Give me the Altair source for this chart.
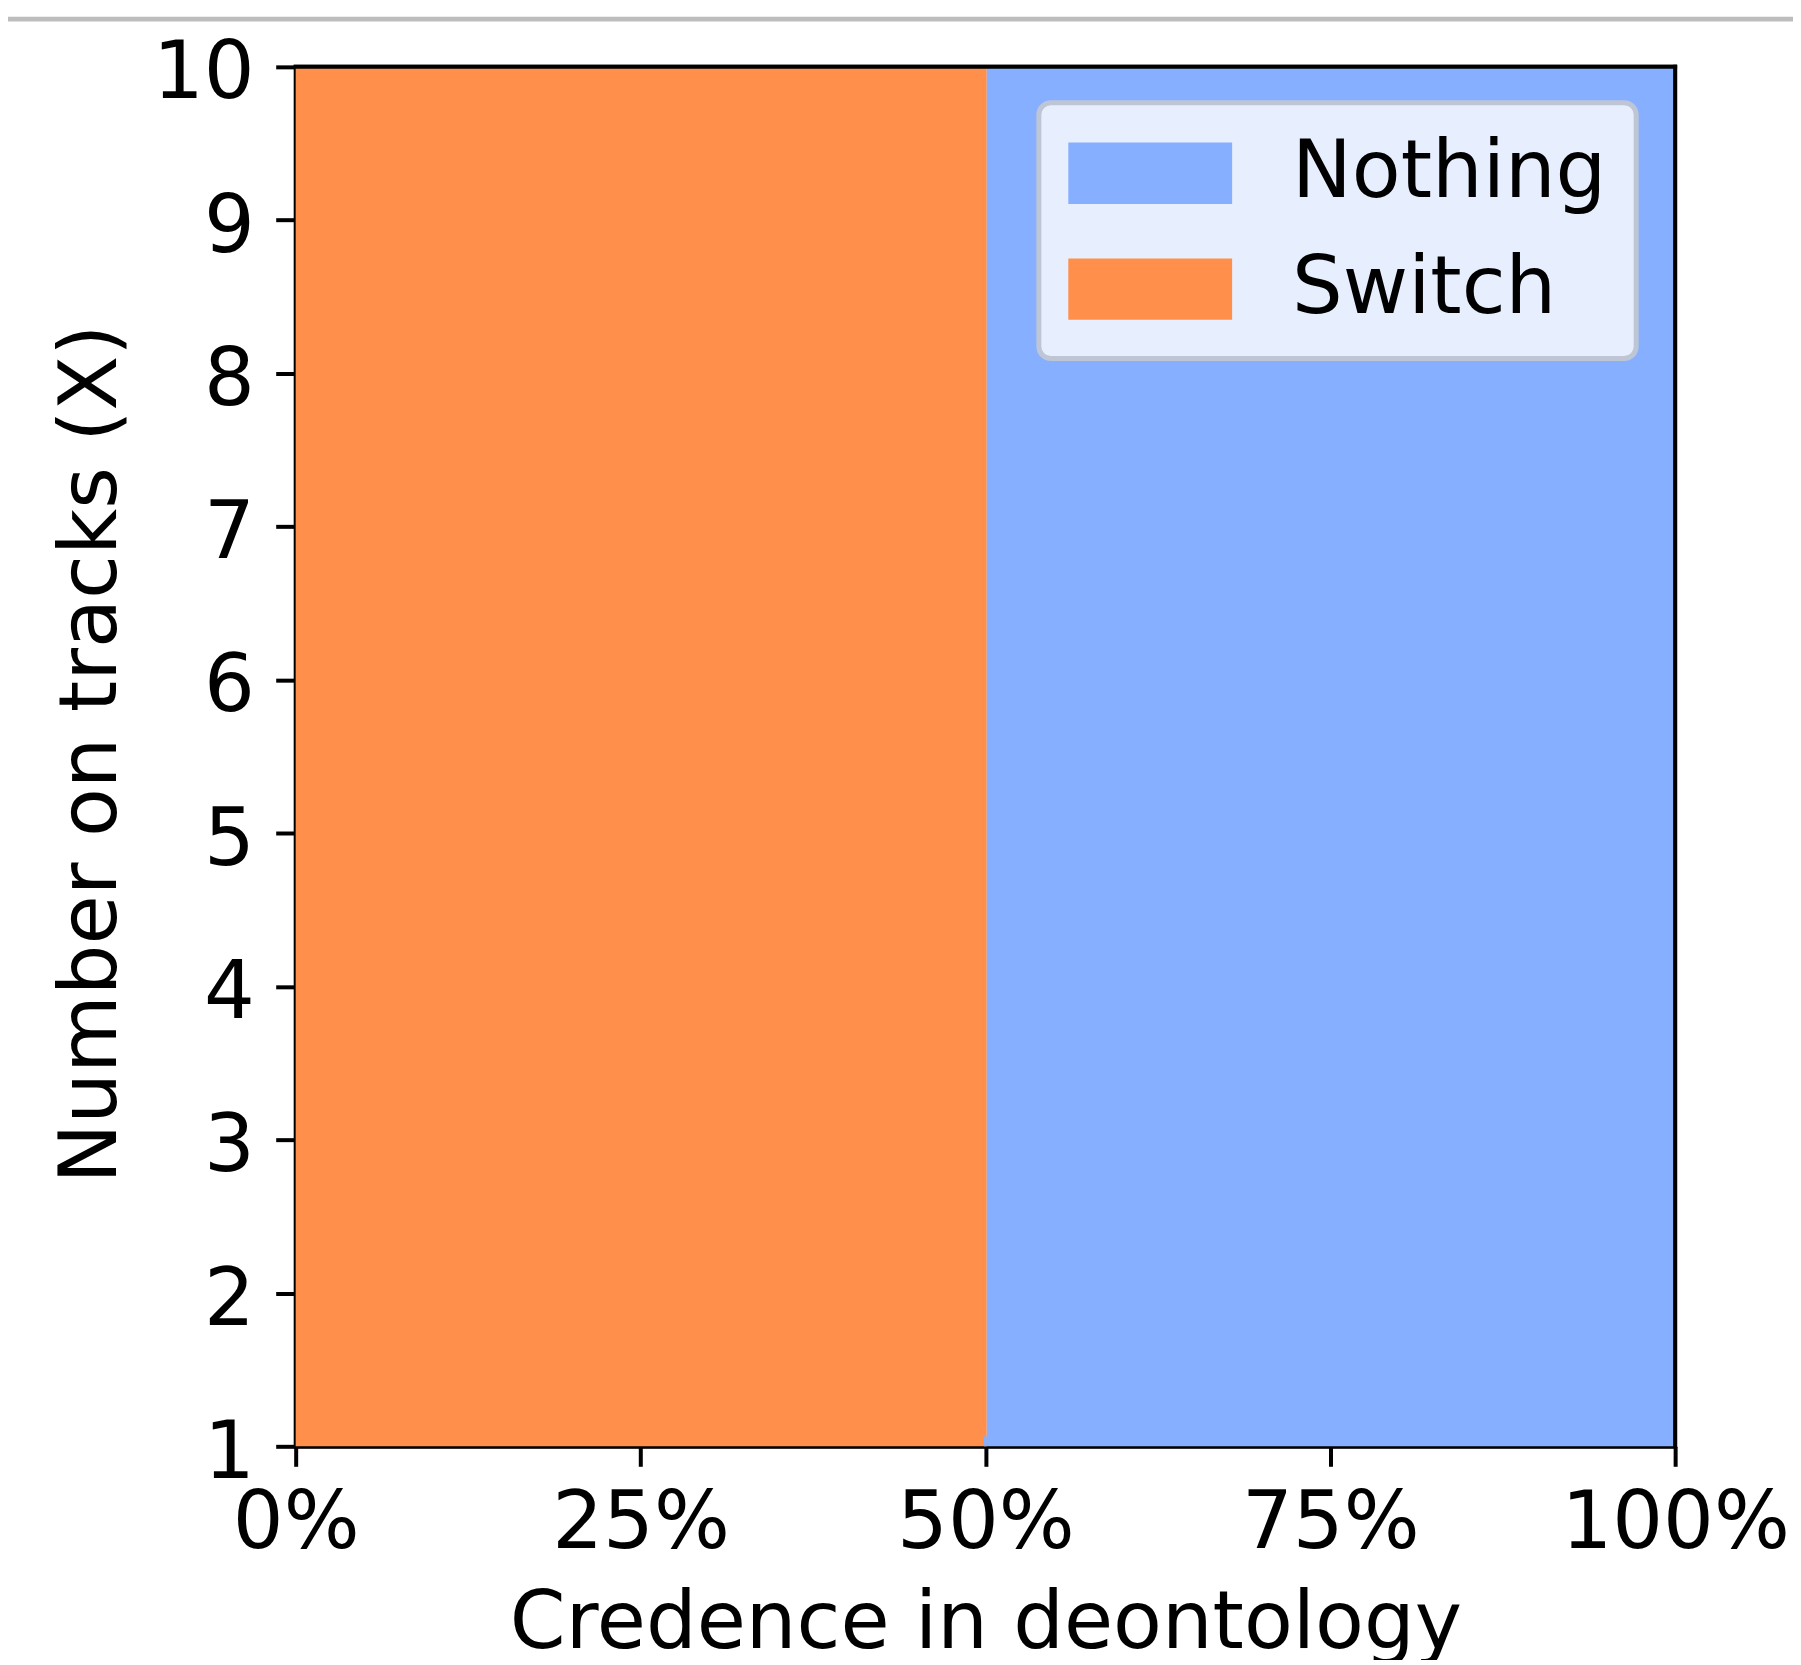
import altair as alt
import pandas as pd

# ---- data ----
actions = ["Nothing", "Switch"]
action_colors = ["#86afff", "#ff8f4a"]

# decision regions (credence in deontology vs number on tracks)
region_action = ["Switch", "Nothing", "Nothing"]
region_credence_from = [0.0, 0.501, 0.499]
region_credence_to = [0.501, 1.0, 0.501]
region_tracks_from = [1.0, 1.0, 1.0]
region_tracks_to = [10.0, 10.0, 1.065]

x_domain = [0.0, 1.0]
y_domain = [1, 10]
x_tick_values = [0.0, 0.25, 0.5, 0.75, 1.0]
y_tick_values = [1, 2, 3, 4, 5, 6, 7, 8, 9, 10]

FONT = "DejaVu Sans"
W, H = 1381, 1381

df = pd.DataFrame({
    "action": region_action,
    "c0": region_credence_from,
    "c1": region_credence_to,
    "t0": region_tracks_from,
    "t1": region_tracks_to,
})

# wide rectangular legend swatch (path in units of sqrt(size)/2)
symbol_path = "M-2,-0.75H2V0.75H-2Z"

xscale = alt.Scale(domain=x_domain, nice=False, zero=False)
yscale = alt.Scale(domain=y_domain, nice=False, zero=False)

regions = alt.Chart(df).mark_rect(strokeWidth=0).encode(
    x=alt.X("c0:Q", scale=xscale,
            axis=alt.Axis(values=x_tick_values, format=".0%",
                          title="Credence in deontology",
                          titleX=W / 2, titleY=201,
                          titleBaseline="alphabetic", titleAlign="center",
                          labelBaseline="alphabetic", labelPadding=81,
                          labelAlign="center", labelLimit=2000)),
    x2="c1:Q",
    y=alt.Y("t0:Q", scale=yscale,
            axis=alt.Axis(values=y_tick_values, format="d",
                          title="Number on tracks (X)",
                          titleAngle=270, titleX=-180, titleY=H / 2 - 3,
                          titleBaseline="alphabetic", titleAlign="center",
                          labelBaseline="alphabetic", labelOffset=31,
                          labelPadding=21.5, labelAlign="right",
                          labelLimit=2000)),
    y2="t1:Q",
    color=alt.Color("action:N",
                    scale=alt.Scale(domain=actions, range=action_colors),
                    legend=alt.Legend(
                        title=None, orient="none", legendX=744, legendY=36,
                        direction="vertical",
                        symbolType=symbol_path, symbolSize=82 * 82,
                        symbolOffset=41,
                        symbolStrokeWidth=0, symbolOpacity=1,
                        labelFont=FONT, labelFontSize=80, labelColor="black",
                        labelOffset=101, labelLimit=2000,
                        rowPadding=35, padding=29.5,
                        fillColor="#e7eefd", strokeColor="#bec6d6",
                        cornerRadius=12)),
)

# top and right spines of the axes frame
frame_top = alt.Chart(pd.DataFrame({"k": [0]})).mark_rule(
    color="black", strokeWidth=4, strokeCap="square"
).encode(x=alt.datum(x_domain[0], scale=xscale), x2=alt.datum(x_domain[1]),
         y=alt.datum(y_domain[1], scale=yscale))
frame_right = alt.Chart(pd.DataFrame({"k": [0]})).mark_rule(
    color="black", strokeWidth=4, strokeCap="square"
).encode(x=alt.datum(x_domain[1], scale=xscale),
         y=alt.datum(y_domain[0], scale=yscale), y2=alt.datum(y_domain[1]))

# thin grey page rule across the top of the figure
decor = alt.Chart(pd.DataFrame({"k": [0]})).mark_rule(
    color="#bdbdbd", strokeWidth=4.7
).encode(x=alt.value(-296), x2=alt.value(1801 - 296), y=alt.value(-47.7))

chart = alt.layer(regions, frame_top, frame_right, decor).properties(
    width=W, height=H,
    autosize=alt.AutoSizeParams(type="none"),
    padding={"left": 288, "top": 58, "right": 118, "bottom": 213},
    background="white",
).configure_view(
    stroke="black", strokeWidth=4
).configure_axis(
    labelFont=FONT, labelFontSize=80, labelColor="black",
    titleFont=FONT, titleFontSize=80, titleColor="black", titleFontWeight="normal",
    tickColor="black", tickWidth=4, tickSize=20,
    domainColor="black", domainWidth=4, grid=False, zindex=1,
    labelFlush=False, labelOverlap=False,
).configure_legend(
    strokeWidth=5
)

chart.save("out.html", embed_options={"renderer": "svg", "actions": False})
